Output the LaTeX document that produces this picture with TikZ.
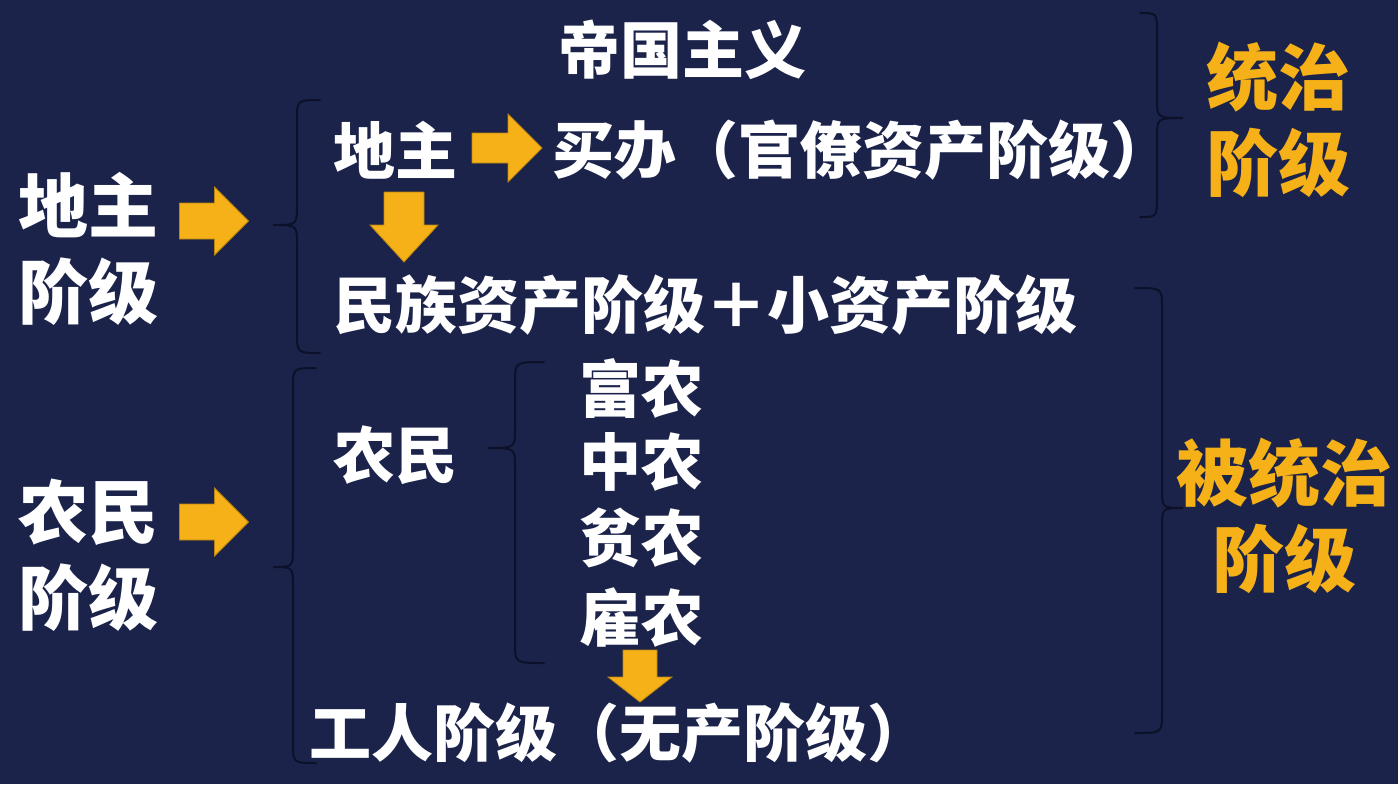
\documentclass[tikz,border=0pt]{standalone}
\usepackage{fontspec}
\newfontfamily\cjk{Noto Sans CJK SC}
\definecolor{bg}{RGB}{27,35,74}
\definecolor{gold}{RGB}{246,177,24}
\definecolor{brc}{RGB}{12,16,40}
\tikzset{
  wtxt/.style={text=white, font=\cjk\bfseries\fontsize{31}{37}\selectfont, inner sep=0pt},
  bigtxt/.style={wtxt, font=\cjk\bfseries\fontsize{35}{43}\selectfont, align=left},
  goldtxt/.style={text=gold, font=\cjk\bfseries\fontsize{36}{43}\selectfont, align=center, inner sep=0pt},
  blockarrow/.style={fill=gold, draw=gold!75!black, line width=0.4pt},
  bracestyle/.style={draw=brc, line width=1pt, line cap=round},
}
% #1,#2 centre, #3 angle, #4 length, #5 head length, #6 head half width, #7 body half width
\newcommand\blkarrow[7]{%
  \filldraw[blockarrow, shift={(#1,#2)}, rotate=#3]
    ({-#4/2},{-#7}) -- ({#4/2-#5},{-#7}) -- ({#4/2-#5},{-#6}) -- ({#4/2},0)
    -- ({#4/2-#5},{#6}) -- ({#4/2-#5},{#7}) -- ({-#4/2},{#7}) -- cycle;}
% #1 end x, #2 vertical x, #3 tip x, #4 top y, #5 tip y, #6 bottom y
\newcommand\brc[6]{%
  \draw[bracestyle] (#1,#4) .. controls (#2,#4) .. (#2,{#4+20}) -- (#2,{#5-20})
    .. controls (#2,#5) .. (#3,#5) .. controls (#2,#5) .. (#2,{#5+20})
    -- (#2,{#6-20}) .. controls (#2,#6) .. (#1,#6);}
\begin{document}
\begin{tikzpicture}[x=0.5pt,y=-0.5pt]
\fill[bg] (0,0) rectangle (1398,784);
\useasboundingbox (0,0) rectangle (1398,784);

% left column
\node[bigtxt, anchor=west] (dizhuL) at (18,249) {地主\\阶级};
\node[bigtxt, anchor=west] (nongminL) at (18,555) {农民\\阶级};
\blkarrow{214}{221}{0}{69}{34}{34}{18}
\blkarrow{214}{522}{0}{69}{34}{34}{18}

% braces
\brc{320}{297}{273}{100}{225}{353}
\brc{316}{293}{273}{368}{567}{763}
\brc{544}{515}{488}{362}{448}{663}
\brc{1140}{1157}{1183}{13}{118}{217}
\brc{1135}{1162}{1183}{288}{508}{733}

% middle texts
\node[wtxt] (diguo) at (682,50) {帝国主义};
\node[wtxt, anchor=west] (dizhu) at (333,150) {地主};
\node[wtxt, anchor=west] (maiban) at (552,150) {买办（官僚资产阶级）};
\blkarrow{507}{148}{0}{70}{34}{34}{15}
\blkarrow{404}{227}{-90}{70}{37}{34}{20}
\node[wtxt, anchor=west] (minzu) at (333,305) {民族资产阶级＋小资产阶级};
\node[wtxt, anchor=west] (nongmin) at (333,455) {农民};
\node[wtxt, anchor=west] (funong) at (579,389) {富农};
\node[wtxt, anchor=west] (zhongnong) at (579,462) {中农};
\node[wtxt, anchor=west] (pinnong) at (579,538) {贫农};
\node[wtxt, anchor=west] (gunong) at (579,618) {雇农};
\blkarrow{640}{676}{-90}{52}{25}{32}{17}
\node[wtxt, anchor=west] (gongren) at (309,733) {工人阶级（无产阶级）};

% right column
\node[goldtxt] (tongzhi) at (1278,120) {统治\\阶级};
\node[goldtxt] (beitongzhi) at (1284,516) {被统治\\阶级};
\end{tikzpicture}
\end{document}
